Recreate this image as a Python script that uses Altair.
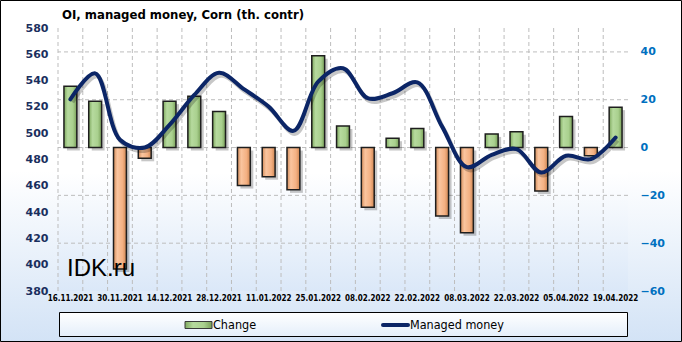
import altair as alt
import pandas as pd

dates = ["16.11.2021", "23.11.2021", "30.11.2021", "07.12.2021", "14.12.2021", "21.12.2021",
         "28.12.2021", "04.01.2022", "11.01.2022", "18.01.2022", "25.01.2022", "01.02.2022",
         "08.02.2022", "15.02.2022", "22.02.2022", "01.03.2022", "08.03.2022", "15.03.2022",
         "22.03.2022", "29.03.2022", "05.04.2022", "12.04.2022", "19.04.2022"]
change = [25.6, 19.4, -50.8, -4.5, 19.4, 21.5, 15.1, -15.9, -12.2, -17.7, 38.4, 9.0,
          -25.0, 3.9, 8.0, -28.6, -35.6, 5.7, 6.6, -18.2, 13.0, -3.4, 16.9]
managed_money = [525.8, 545.5, 495.0, 489.1, 506.3, 529.1, 546.0, 533.5, 520.2, 501.8, 539.2, 549.4,
                 526.6, 530.4, 538.7, 505.0, 474.2, 483.5, 487.9, 470.1, 482.8, 480.3, 496.7]
right_ticks = [-60, -40, -20, 0, 20, 40]
left_ticks = [380, 400, 420, 440, 460, 480, 500, 520, 540, 560, 580]
grid_vals = [-40, -20, 0, 20, 40]

df = pd.DataFrame({"date": dates, "change": change, "mm": managed_money})
grid_df = pd.DataFrame({"g": grid_vals})
one = pd.DataFrame({"a": [0]})

W, H = 570, 263


def vgrad(stops):
    return alt.Gradient(gradient="linear", x1=0, x2=0, y1=0, y2=1,
                        stops=[alt.GradientStop(offset=o, color=c) for o, c in stops])


def hgrad(stops):
    return alt.Gradient(gradient="linear", x1=0, x2=1, y1=0, y2=0,
                        stops=[alt.GradientStop(offset=o, color=c) for o, c in stops])


x_axis = alt.Axis(values=dates[::2], labelAngle=0, ticks=False, domain=False, grid=False,
                  labelFont="DejaVu Sans Condensed", labelFontWeight="bold", labelFontSize=8,
                  labelColor="black", labelPadding=3, title=None, zindex=1, labelOverlap=False)
x_scale = alt.Scale(domain=dates, paddingInner=0, paddingOuter=0)


def xenc(bp=0.5):
    return alt.X("date:N", sort=dates, scale=x_scale, axis=x_axis, bandPosition=bp)


yr_scale = alt.Scale(domain=[-60, 50], nice=False, zero=False)
yr_axis = alt.Axis(orient="right", values=right_ticks, grid=False, ticks=False, domain=False,
                   labelFont="DejaVu Sans", labelFontWeight="bold", labelFontSize=11,
                   labelColor="#0070c0", labelPadding=12, title=None, zindex=1)
yl_scale = alt.Scale(domain=[380, 580], nice=False, zero=False)
yl_axis = alt.Axis(orient="left", values=left_ticks, grid=False, ticks=False, domain=False,
                   labelFont="DejaVu Sans", labelFontWeight="bold", labelFontSize=11,
                   labelColor="#1a2f5e", labelPadding=10, title=None, zindex=1)

# backgrounds
bg_outer = alt.Chart(one).mark_rect(
    fill=vgrad([(0, "#ffffff"), (0.5, "#ffffff"), (1, "#d3e3f6")]), stroke="black", strokeWidth=1
).encode(x=alt.value(-57.5), x2=alt.value(623.5), y=alt.value(-27.5), y2=alt.value(313.5))
bg_plot = alt.Chart(one).mark_rect(
    fill=vgrad([(0, "#ffffff"), (0.55, "#ffffff"), (1, "#dbe8f8")])
).encode(x=alt.value(0), x2=alt.value(W), y=alt.value(0), y2=alt.value(H))

# grid
hgrid = alt.Chart(grid_df).mark_rule(color="#bdbdbd", strokeDash=[4, 3], strokeWidth=1).encode(
    y=alt.Y("g:Q", scale=yr_scale, axis=yr_axis))
vgrid = alt.Chart(df).mark_rule(color="#bdbdbd", strokeDash=[4, 3], strokeWidth=1).encode(
    x=xenc(0))

green = hgrad([(0, "#7fa95f"), (0.3, "#b6da9e"), (0.7, "#a9d08e"), (1, "#789f58")])
orange = hgrad([(0, "#d48d5b"), (0.3, "#fac59f"), (0.7, "#f4b183"), (1, "#cf8652")])

bar_w = alt.RelativeBandSize(band=0.52)
bar_shadow = alt.Chart(df).mark_bar(width=bar_w, color="#000000", opacity=0.22, xOffset=3, yOffset=3).encode(
    x=xenc(), y=alt.Y("change:Q", scale=yr_scale, axis=yr_axis))
bar_pos = alt.Chart(df).transform_filter("datum.change >= 0").mark_bar(
    width=bar_w, fill=green, stroke="#1e1e1e", strokeWidth=1.5).encode(
    x=xenc(), y=alt.Y("change:Q", scale=yr_scale, axis=yr_axis))
bar_neg = alt.Chart(df).transform_filter("datum.change < 0").mark_bar(
    width=bar_w, fill=orange, stroke="#1e1e1e", strokeWidth=1.5).encode(
    x=xenc(), y=alt.Y("change:Q", scale=yr_scale, axis=yr_axis))

bars_group = alt.layer(hgrid, vgrid, bar_shadow, bar_pos, bar_neg)

line_shadow = alt.Chart(df).mark_line(interpolate="catmull-rom", color="#000000", opacity=0.22,
                                      strokeWidth=4, xOffset=2, yOffset=3).encode(
    x=xenc(), y=alt.Y("mm:Q", scale=yl_scale, axis=yl_axis))
line = alt.Chart(df).mark_line(interpolate="catmull-rom", color="#0b2566", strokeWidth=4,
                               strokeCap="round", strokeJoin="round").encode(
    x=xenc(), y=alt.Y("mm:Q", scale=yl_scale, axis=yl_axis))
line_group = alt.layer(line_shadow, line)

# texts
title = alt.Chart(one).mark_text(text="OI, managed money, Corn (th. contr)", font="DejaVu Sans Condensed",
                                 fontWeight="bold", fontSize=13, align="left", baseline="middle",
                                 color="black").encode(x=alt.value(4), y=alt.value(-13))
idk = alt.Chart(one).mark_text(text="IDK.ru", font="Liberation Sans", fontSize=24, align="left",
                               baseline="alphabetic", color="black").encode(x=alt.value(9), y=alt.value(248))

# legend
leg_box = alt.Chart(one).mark_rect(
    fill=vgrad([(0, "#ffffff"), (1, "#e4eefa")]), stroke="black", strokeWidth=1
).encode(x=alt.value(1.5), x2=alt.value(569.5), y=alt.value(284.5), y2=alt.value(308.5))
leg_sw = alt.Chart(one).mark_rect(fill=green, stroke="#3a3a3a", strokeWidth=1).encode(
    x=alt.value(127), x2=alt.value(154), y=alt.value(293.5), y2=alt.value(300.5))
leg_t1 = alt.Chart(one).mark_text(text="Change", font="DejaVu Sans Condensed", fontSize=12.5,
                                  align="left", baseline="middle", color="black").encode(
    x=alt.value(155), y=alt.value(297))
leg_ln = alt.Chart(one).mark_rule(color="#0b2566", strokeWidth=4, strokeCap="round").encode(
    x=alt.value(325), x2=alt.value(350), y=alt.value(297))
leg_t2 = alt.Chart(one).mark_text(text="Managed money", font="DejaVu Sans Condensed", fontSize=12.5,
                                  align="left", baseline="middle", color="black").encode(
    x=alt.value(352), y=alt.value(297))

chart = alt.layer(
    bg_outer, bg_plot, bars_group, line_group, idk, title, leg_box, leg_sw, leg_t1, leg_ln, leg_t2
).resolve_scale(y="independent").properties(
    width=W, height=H,
    autosize=alt.AutoSizeParams(type="none"),
    padding={"left": 58, "top": 28, "right": 54, "bottom": 51},
).configure_view(stroke="black", strokeWidth=1.2).configure(background="white")

chart.save("out.html", embed_options={"renderer": "svg", "actions": False})
